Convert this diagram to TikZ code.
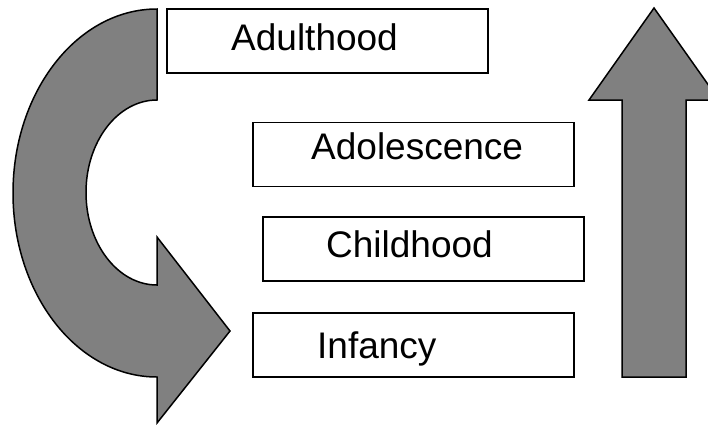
\documentclass[tikz,border=0pt]{standalone}
\usepackage{fontspec}
\setmainfont{Liberation Sans}
\begin{document}
\begin{tikzpicture}[x=1pt,y=-1pt,
  box/.style={draw=black, line width=1.5pt, rectangle, minimum width=321pt, minimum height=64pt, inner sep=0pt},
  txt/.style={font=\fontsize{37}{44}\selectfont, inner sep=0pt, anchor=base west},
  bigarrow/.style={draw=black, line width=1.5pt, fill={rgb,255:red,128;green,128;blue,128}, line join=miter}]
\useasboundingbox (0,0) rectangle (708,424);
\clip (0,0) rectangle (708,424);
% curved arrow
\draw[bigarrow] (157,9) -- (157,100)
  arc[start angle=270, end angle=90, x radius=71, y radius=92.5]
  -- (157,237) -- (230,331) -- (157,423) -- (157,377)
  arc[start angle=90, end angle=270, x radius=144, y radius=184]
  -- cycle;
% straight up arrow
\draw[bigarrow] (622,377) -- (622,100) -- (589,100) -- (654,8) -- (719,100) -- (686,100) -- (686,377) -- cycle;
% boxes
\node[box] (adult) at (327.5,41) {};
\node[box] (adol) at (413.5,154.5) {};
\node[box] (child) at (423.5,249) {};
\node[box] (inf) at (413.5,345) {};
\node[txt] (adultT) at (231,50) {Adulthood};
\node[txt] (adolT) at (311,159) {Adolescence};
\node[txt] (childT) at (326,257) {Childhood};
\node[txt] (infT) at (317,358) {Infancy};
\end{tikzpicture}
\end{document}
